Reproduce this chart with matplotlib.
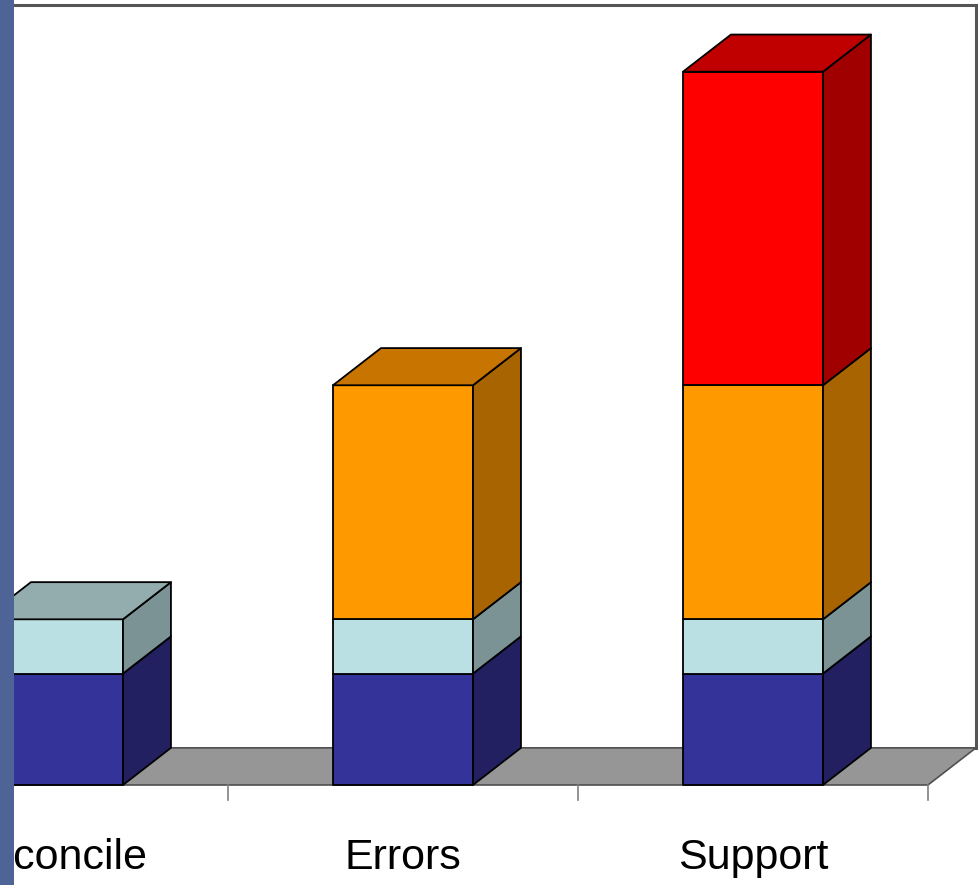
import matplotlib.pyplot as plt
from matplotlib.patches import Polygon, Rectangle

categories = ['Reconcile', 'Errors', 'Support']
blue = [15, 15, 15]
cyan = [7.3, 7.3, 7.3]
orange = [0, 31.5, 31.5]
red = [0, 0, 42.2]
y_max = 100

series = [blue, cyan, orange, red]
# front, side, top colours for each stacked series
faces = [
    ('#333399', '#222060', '#2a2a80'),
    ('#bbe0e3', '#7b9394', '#93acae'),
    ('#ff9900', '#a86400', '#c87400'),
    ('#ff0000', '#a00000', '#c00000'),
]

bar_w = 0.4
dx, dy = 0.137, 5.0  # depth offset of the 3D effect

plt.rcParams['font.family'] = ['Liberation Sans', 'DejaVu Sans']
fig = plt.figure(figsize=(9.79, 8.85), dpi=100)
ax = fig.add_axes([0, 0, 1, 1])
ax.set_xlim(-0.1514, 2.6457)
ax.set_ylim(-13.46, 105.65)
ax.axis('off')

n = len(categories)
x_left, x_right = -0.6, n - 0.5

# floor
floor = Polygon([(x_left, 0), (x_right, 0), (x_right + dx, dy), (x_left + dx, dy)],
                closed=True, facecolor='#969696', edgecolor='#505050', lw=1.2, zorder=1)
ax.add_patch(floor)

# back wall frame: top and right edges
ax.plot([x_left, x_right + dx], [y_max + dy, y_max + dy], color='#555555', lw=2.2, zorder=0.5)
ax.plot([x_right + dx, x_right + dx], [dy, y_max + dy], color='#555555', lw=2.2, zorder=0.5)

# tick marks between categories
for i in range(n):
    ax.plot([i + 0.5, i + 0.5], [0, -2.0], color='#808080', lw=1.2, zorder=1)

edge = dict(edgecolor='black', lw=1.3, joinstyle='round')
for i in range(n):
    x0 = i - bar_w / 2
    x1 = i + bar_w / 2
    base = 0
    top_col = None
    for vals, (fc, sc, tc) in zip(series, faces):
        h = vals[i]
        if h <= 0:
            continue
        t = base + h
        ax.add_patch(Rectangle((x0, base), bar_w, h, facecolor=fc, zorder=3, **edge))
        ax.add_patch(Polygon([(x1, base), (x1 + dx, base + dy), (x1 + dx, t + dy), (x1, t)],
                             closed=True, facecolor=sc, zorder=3, **edge))
        base = t
        top_col = tc
    ax.add_patch(Polygon([(x0, base), (x1, base), (x1 + dx, base + dy), (x0 + dx, base + dy)],
                         closed=True, facecolor=top_col, zorder=3, **edge))

for i, name in enumerate(categories):
    ax.text(i, -9.8, name, ha='center', va='center', fontsize=31, color='black')

# slide side bar on the left
fig.patches.append(Rectangle((0, 0), 14 / 979, 1, transform=fig.transFigure,
                             facecolor='#4f6496', edgecolor='none', zorder=10))

fig.savefig('out.png', dpi=100)
